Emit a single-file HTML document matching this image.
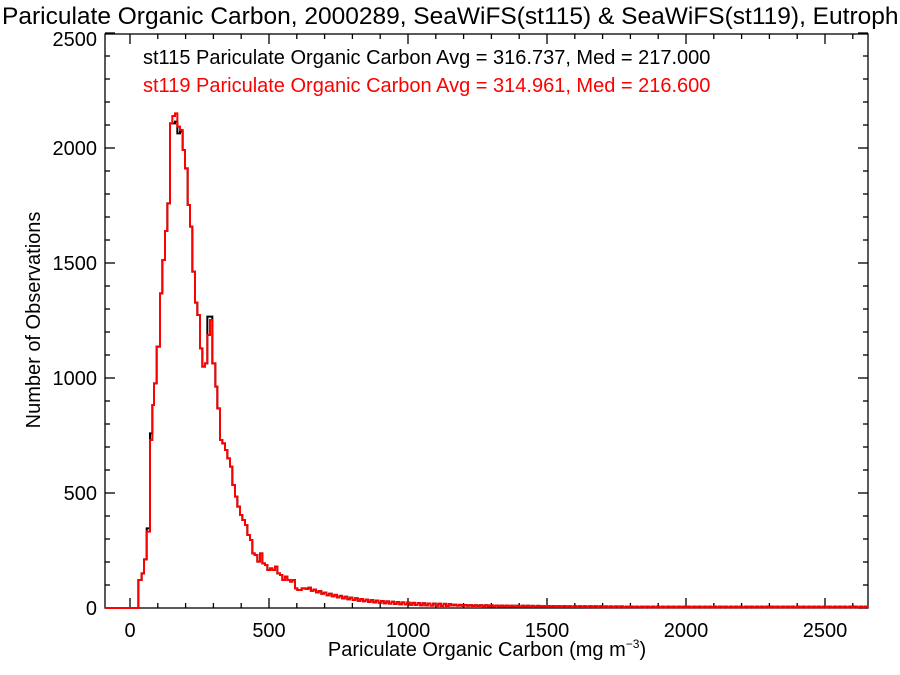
<!DOCTYPE html>
<html><head><meta charset="utf-8"><style>
body{margin:0;background:#fff}
svg{display:block;font-family:"Liberation Sans",Helvetica,Arial,sans-serif}
</style></head><body>
<svg id="s" width="900" height="675" viewBox="0 0 900 675" xmlns="http://www.w3.org/2000/svg">
<text x="2" y="24" font-size="24.5">Pariculate Organic Carbon, 2000289, SeaWiFS(st115) &amp; SeaWiFS(st119), Eutrophic</text>
<text x="143" y="64" font-size="20">st115 Pariculate Organic Carbon Avg = 316.737, Med = 217.000</text>
<text x="143" y="92" font-size="20" fill="#f00">st119 Pariculate Organic Carbon Avg = 314.961, Med = 216.600</text>
<text transform="translate(40,320) rotate(-90)" text-anchor="middle" font-size="20">Number of Observations</text>
<text x="487" y="656" text-anchor="middle" font-size="20">Pariculate Organic Carbon (mg m<tspan font-size="12" dy="-8">−3</tspan><tspan dy="8">)</tspan></text>
<g id="ax" stroke="#000" stroke-width="1.3" fill="none"></g>
<g id="lbl" font-size="20"></g>
<path id="pb" fill="none" stroke="#000" stroke-width="2"/>
<path id="pr" fill="none" stroke="#f00" stroke-width="2"/>
</svg>
<script>
const L=105,R=868,T=34,B=608;
const X=v=>130+v*139/500, Y=v=>608-v*0.23;
let a='';
a+=`<rect x="${L}" y="${T}" width="${R-L}" height="${B-T}"/>`;
let lb='';
for(let v=0;v<=2600;v+=100){const x=X(v);if(x<L||x>R)continue;const m=v%500==0,l=m?10:5;
a+=`<line x1="${x}" y1="${B}" x2="${x}" y2="${B-l}"/><line x1="${x}" y1="${T}" x2="${x}" y2="${T+l}"/>`;
if(m)lb+=`<text x="${x}" y="637" text-anchor="middle">${v}</text>`;}
for(let v=0;v<=2500;v+=100){const y=Y(v);const m=v%500==0,l=m?10:5;
a+=`<line x1="${L}" y1="${y}" x2="${L+l}" y2="${y}"/><line x1="${R}" y1="${y}" x2="${R-l}" y2="${y}"/>`;
if(m)lb+=`<text x="97" y="${Math.max(y+7,46)}" text-anchor="end">${v}</text>`;}
document.getElementById('ax').innerHTML=a;document.getElementById('lbl').innerHTML=lb;
const pts=[[25,1440],[35,1420],[42,1378],[50,1295],[60,1020],[67,915],[72,850],[80,740],[90,580],[97,480],[105,393],[112,310],[120,70],[127,48],[135,40],[142,80],[150,90],[158,150],[165,205],[173,315],[180,380],[187,515],[195,608],[202,645],[210,745],[217,800],[225,790],[232,705],[240,660],[247,790],[256,860],[262,925],[270,1020],[277,1030],[285,1050],[292,1075],[300,1100],[307,1155],[315,1190],[322,1220],[330,1245],[337,1260],[345,1275],[352,1305],[360,1320],[367,1360],[374,1365],[382,1385],[390,1360],[397,1390],[405,1395],[412,1410],[420,1405],[427,1410],[435,1400],[442,1420],[450,1425],[457,1440],[465,1430],[472,1440],[480,1445],[487,1440],[495,1465],[502,1470],[515,1465]];
function build(mod){
 let d=`M${L} ${B}H${130+25/3}`;
 const arr=pts.map(p=>[130+p[0]/3,100+(mod[p[0]]!==undefined?mod[p[0]]:p[1])/3]);
 for(let i=0;i<arr.length;i++){const [x,y]=arr[i];const nx=i+1<arr.length?arr[i+1][0]:x+4;d+=`V${y}H${nx}`;}
 let x=arr[arr.length-1][0]+4;
 let s=1;
 while(x<R){const v=Math.max(1,16*Math.exp(-(x-306)/45)+4*Math.exp(-(x-306)/250))+ (s*=-1)*(x<450?1:0.4);
  let y=Math.min(B-0.5,B-v);d+=`V${y.toFixed(1)}H${Math.min(R,x+2.6).toFixed(1)}`;x+=2.6;}
 return d;
}
document.getElementById('pr').setAttribute('d',build({}));
document.getElementById('pb').setAttribute('d',build({127:70,135:65,142:100,150:95,232:650,240:650,60:1000,50:1285}));
</script>
</body></html>
